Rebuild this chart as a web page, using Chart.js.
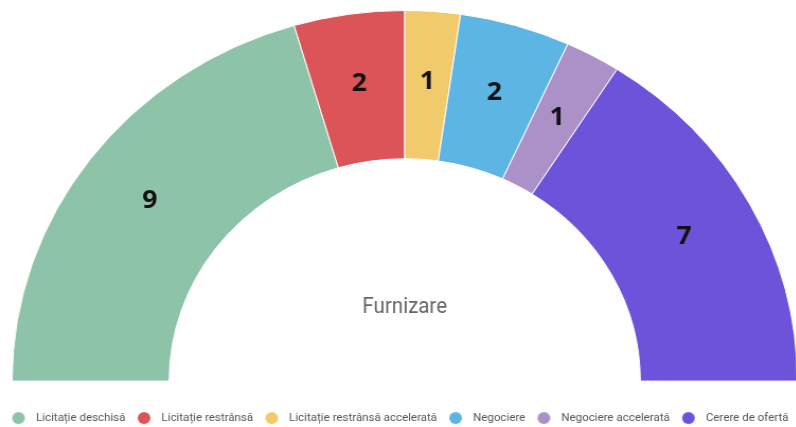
<!DOCTYPE html>
<html>
<head>
<meta charset="utf-8">
<script src="https://cdn.jsdelivr.net/npm/chart.js@4/dist/chart.umd.min.js"></script>
<style>
  html, body { margin: 0; padding: 0; background: #fff; overflow: hidden; }
  #wrap { width: 764px; height: 427px; transform: scaleX(1.0595); transform-origin: 0 0; }
</style>
</head>
<body>
<div id="wrap"><canvas id="graficoFurnizare"></canvas></div>
<script>
// Proceduri pentru furnizare
const categorii = ['Licitație deschisă', 'Licitație restrânsă', 'Licitație restrânsă accelerată', 'Negociere', 'Negociere accelerată', 'Cerere de ofertă'];
const valori = [9, 2, 1, 2, 1, 7];
const culori = ['#8dc3a8', '#db5457', '#f1ca6b', '#5db5e4', '#ac91c9', '#6d53da'];
const titluCentru = 'Furnizare';

// cerculete pentru legenda (putin mutate spre dreapta in imagine)
function cerc(culoare) {
  const c = document.createElement('canvas');
  c.width = 18;
  c.height = 14;
  const g = c.getContext('2d');
  g.fillStyle = culoare;
  g.beginPath();
  g.arc(11, 7, 6, 0, Math.PI * 2);
  g.fill();
  return c;
}
const cercuri = culori.map(cerc);

// numerele pe fiecare felie, putin spre exterior
const eticheteFelii = {
  id: 'eticheteFelii',
  afterDatasetsDraw(chart) {
    const ctx = chart.ctx;
    const meta = chart.getDatasetMeta(0);
    ctx.save();
    ctx.font = '700 25px "Open Sans"';
    ctx.fillStyle = '#111';
    ctx.textAlign = 'center';
    ctx.textBaseline = 'middle';
    meta.data.forEach(function (arc, i) {
      const p = arc.getProps(['x', 'y', 'startAngle', 'endAngle', 'innerRadius', 'outerRadius']);
      const mid = (p.startAngle + p.endAngle) / 2;
      const r = (p.innerRadius + p.outerRadius) / 2 + 4;
      ctx.fillText(String(chart.data.datasets[0].data[i]), p.x + Math.cos(mid) * r, p.y + Math.sin(mid) * r);
    });
    ctx.restore();
  }
};

// textul din centru
const textCentru = {
  id: 'textCentru',
  afterDraw(chart) {
    const arc = chart.getDatasetMeta(0).data[0];
    if (!arc) return;
    const ctx = chart.ctx;
    ctx.save();
    ctx.translate(arc.x, arc.y - 68);
    ctx.scale(0.88, 1);
    ctx.font = '22px Roboto';
    ctx.fillStyle = '#666';
    ctx.textAlign = 'center';
    ctx.textBaseline = 'alphabetic';
    ctx.fillText(titluCentru, 0, 0);
    ctx.restore();
  }
};

const graficoFurnizare = document.getElementById('graficoFurnizare');
new Chart(graficoFurnizare, {
  type: 'doughnut',
  data: {
    labels: categorii,
    datasets: [{
      data: valori,
      backgroundColor: culori,
      borderColor: '#fff',
      borderWidth: 1
    }]
  },
  options: {
    responsive: true,
    maintainAspectRatio: false,
    animation: false,
    rotation: -90,
    circumference: 180,
    cutout: '60%',
    layout: { padding: { top: 10, left: 0, right: 0, bottom: -6.5 } },
    plugins: {
      tooltip: { enabled: false },
      legend: {
        position: 'bottom',
        align: 'start',
        title: { display: true, text: '', font: { size: 10 }, padding: { top: 16.5, bottom: 0 } },
        labels: {
          usePointStyle: true,
          pointStyleWidth: 26,
          boxHeight: 11,
          padding: 2.5,
          color: '#555',
          font: { family: 'Roboto', size: 10.9 },
          generateLabels(chart) {
            const items = Chart.overrides.doughnut.plugins.legend.labels.generateLabels(chart);
            items.forEach(function (it, i) { it.pointStyle = cercuri[i]; });
            return items;
          }
        }
      }
    }
  },
  plugins: [eticheteFelii, textCentru]
});
</script>
</body>
</html>
